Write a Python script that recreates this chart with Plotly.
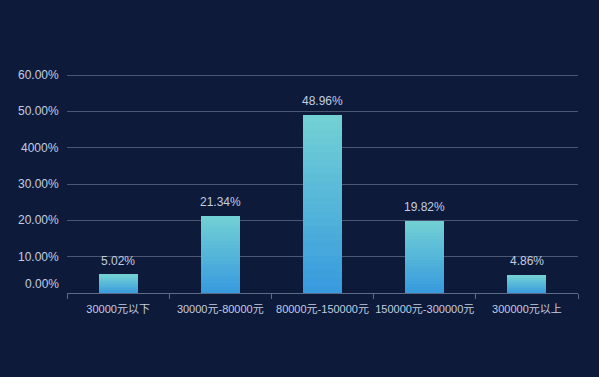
import plotly.graph_objects as go

categories = ["30000元以下", "30000元-80000元", "80000元-150000元", "150000元-300000元", "300000元以上"]
values = [5.02, 21.34, 48.96, 19.82, 4.86]
value_labels = ["5.02%", "21.34%", "48.96%", "19.82%", "4.86%"]
y_tick_values = [0, 10, 20, 30, 40, 50, 60]
y_tick_labels = ["0.00%", "10.00%", "20.00%", "30.00%", "4000%", "50.00%", "60.00%"]

BG = "#0d1a3a"
TXT = "#c3cde0"
FONT = "Liberation Sans, Arial, Noto Sans CJK SC, sans-serif"
TOP_C = (114, 208, 212)
BOT_C = (56, 155, 222)
N = 24

fig = go.Figure()
for k in range(N):
    t = k / (N - 1)
    c = tuple(round(BOT_C[i] + (TOP_C[i] - BOT_C[i]) * t) for i in range(3))
    fig.add_trace(go.Bar(
        x=categories,
        y=[v / N for v in values],
        marker=dict(color="rgb(%d,%d,%d)" % c, line=dict(width=0)),
        hoverinfo="skip",
        showlegend=False,
    ))

for cat, v, lab in zip(categories, values, value_labels):
    fig.add_annotation(x=cat, y=v, text=lab, showarrow=False, yanchor="middle",
                       yshift=14, font=dict(size=12, color=TXT, family=FONT))

for tv, tl in zip(y_tick_values, y_tick_labels):
    fig.add_annotation(xref="paper", x=0, y=tv, yref="y", text=tl, showarrow=False,
                       xanchor="right", yanchor="middle", xshift=-6,
                       yshift=9 if tv == 0 else 0,
                       font=dict(size=12, color=TXT, family=FONT))

fig.update_layout(
    width=599, height=377,
    margin=dict(l=67, r=21, t=74, b=84),
    paper_bgcolor=BG, plot_bgcolor=BG,
    barmode="stack", bargap=0.62,
    font=dict(family=FONT, color=TXT, size=11),
    xaxis=dict(
        type="category", showgrid=False, showline=True, linecolor="#5d6b88", linewidth=1,
        ticks="outside", tickson="boundaries", ticklen=5, tickcolor="#5d6b88",
        tickangle=0, ticklabelstandoff=6,
        tickfont=dict(size=11, color=TXT, family=FONT), fixedrange=True,
    ),
    yaxis=dict(
        range=[0, 60.3], tickvals=y_tick_values, showticklabels=False,
        showgrid=True, gridcolor="#4a5773", gridwidth=1, zeroline=False, showline=False,
        fixedrange=True,
    ),
)

fig.write_html("out.html", config={"displayModeBar": False})
with open("out.html", encoding="utf-8") as f:
    html = f.read()
html = html.replace("<body>", '<body style="margin:0;padding:0;background:%s;">' % BG, 1)
with open("out.html", "w", encoding="utf-8") as f:
    f.write(html)
